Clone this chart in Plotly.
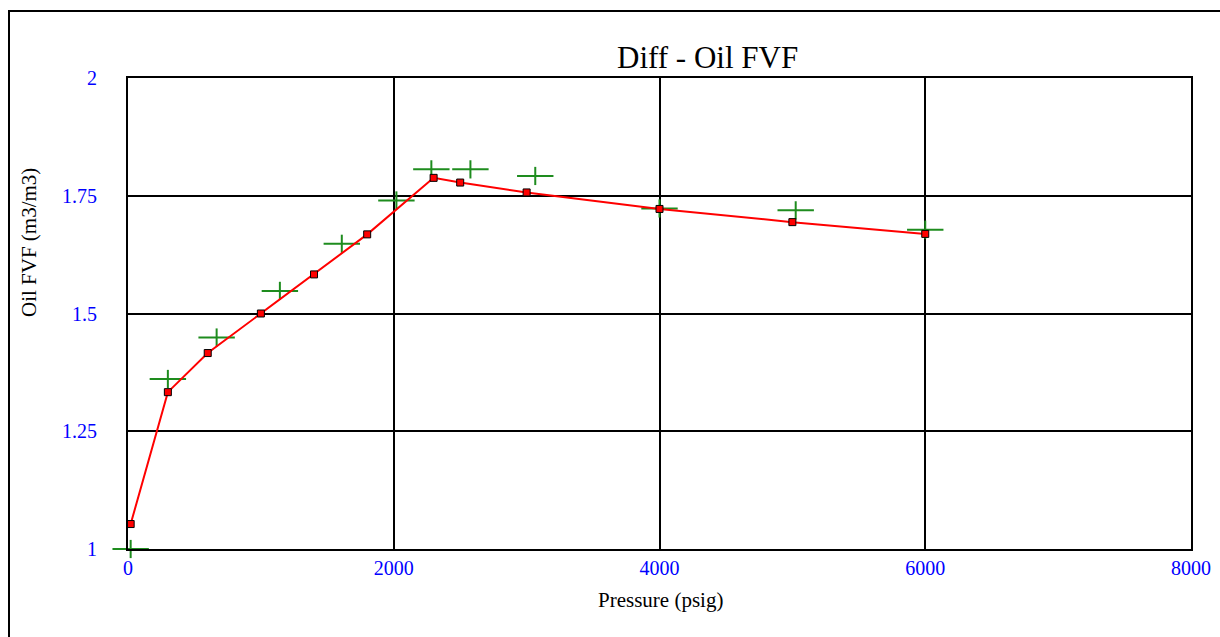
import plotly.graph_objects as go

# Calculated (red line) series
calc_pressure = [20, 300, 600, 1000, 1400, 1800, 2300, 2500, 3000, 4000, 5000, 6000]
calc_fvf = [1.053, 1.333, 1.416, 1.500, 1.583, 1.668, 1.788, 1.778, 1.757, 1.722, 1.694, 1.669]

# Measured (green plus) series
meas_pressure = [20, 300, 667, 1143, 1609, 2020, 2283, 2577, 3065, 4000, 5025, 6000]
meas_fvf = [1.000, 1.361, 1.449, 1.548, 1.648, 1.740, 1.806, 1.806, 1.792, 1.723, 1.719, 1.678]

x_ticks = [0, 2000, 4000, 6000, 8000]
y_ticks = [1, 1.25, 1.5, 1.75, 2]
y_tick_text = ["1", "1.25", "1.5", "1.75", "2"]

title_text = "Diff - Oil FVF"
x_title = "Pressure (psig)"
y_title = "Oil FVF (m3/m3)"

SERIF = "Liberation Serif, Times New Roman, serif"
GREEN = "#1e8c1e"

fig = go.Figure()

# green plus markers: wide horizontal bar + shorter vertical bar
fig.add_trace(go.Scatter(
    x=meas_pressure, y=meas_fvf, mode="markers", cliponaxis=False,
    marker=dict(symbol="line-ew", size=26, line=dict(color=GREEN, width=2), color=GREEN),
    showlegend=False, hoverinfo="x+y"))
fig.add_trace(go.Scatter(
    x=meas_pressure, y=meas_fvf, mode="markers", cliponaxis=False,
    marker=dict(symbol="line-ns", size=13, line=dict(color=GREEN, width=2), color=GREEN),
    showlegend=False, hoverinfo="skip"))

fig.add_trace(go.Scatter(
    x=calc_pressure, y=calc_fvf, mode="lines+markers", cliponaxis=False,
    line=dict(color="#ff0000", width=2),
    marker=dict(symbol="square", size=7, color="#ff0000", line=dict(color="#000000", width=1)),
    showlegend=False))

fig.update_xaxes(
    range=[0, 8000], tickvals=x_ticks, ticktext=[str(v) for v in x_ticks],
    showgrid=True, gridcolor="#000000", gridwidth=2,
    showline=True, linecolor="#000000", linewidth=2, mirror=True,
    zeroline=False, ticks="", automargin=False,
    tickfont=dict(family=SERIF, size=20, color="#0000ff"),
)
fig.update_yaxes(
    range=[1, 2], tickvals=y_ticks, ticktext=y_tick_text,
    showgrid=True, gridcolor="#000000", gridwidth=2,
    showline=True, linecolor="#000000", linewidth=2, mirror=True,
    zeroline=False, ticks="", ticklabelstandoff=25, automargin=False,
    tickfont=dict(family=SERIF, size=20, color="#0000ff"),
)

L, R, T, B = 128, 29, 78, 88
W, H = 1220, 637
pw, ph = W - L - R, H - T - B

def px(xp):
    return (xp - L) / pw

def py(yp):
    return 1 - (yp - T) / ph

annotations = [
    dict(text=title_text, x=px(707), y=py(57), xref="paper", yref="paper",
         xanchor="center", yanchor="middle", showarrow=False,
         font=dict(family=SERIF, size=31, color="#000000")),
    dict(text=x_title, x=px(660), y=py(600), xref="paper", yref="paper",
         xanchor="center", yanchor="middle", showarrow=False,
         font=dict(family=SERIF, size=21, color="#000000")),
    dict(text=y_title, x=px(29), y=py(243), xref="paper", yref="paper",
         xanchor="center", yanchor="middle", showarrow=False, textangle=-90,
         font=dict(family=SERIF, size=21, color="#000000")),
]

shapes = [
    dict(type="rect", xref="paper", yref="paper",
         x0=px(9), y0=py(660), x1=px(1240), y1=py(11),
         line=dict(color="#000000", width=2), fillcolor="rgba(0,0,0,0)", layer="below"),
]

fig.update_layout(
    width=W, height=H,
    margin=dict(l=L, r=R, t=T, b=B, autoexpand=False),
    paper_bgcolor="#ffffff", plot_bgcolor="#ffffff",
    annotations=annotations, shapes=shapes,
    showlegend=False,
)

fig.write_html("out.html")
